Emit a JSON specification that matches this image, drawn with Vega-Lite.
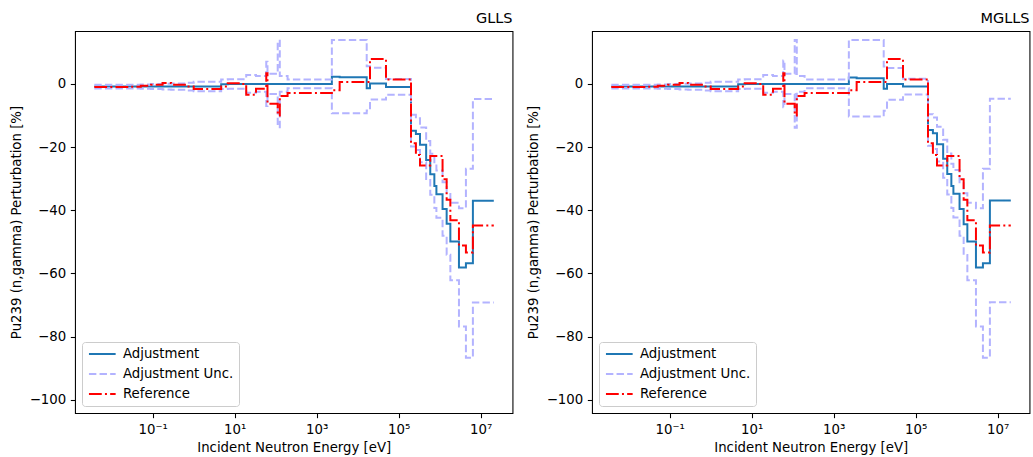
{
  "$schema": "https://vega.github.io/schema/vega-lite/v6.json",
  "padding": {"left": 9, "top": 9, "right": 5, "bottom": 4},
  "spacing": 12,
  "config": {
    "font": "DejaVu Sans",
    "view": {"stroke": "black", "strokeWidth": 1.07},
    "axis": {
      "domain": false, "grid": false,
      "tickColor": "black", "tickSize": 4.67, "tickWidth": 1.07,
      "labelColor": "black", "labelFontSize": 13.3, "labelPadding": 4.67,
      "titleColor": "black", "titleFontSize": 13.3, "titleFontWeight": "normal", "titlePadding": 5.3
    },
    "title": {"fontSize": 14.5, "fontWeight": "normal", "color": "black", "anchor": "end", "offset": 5},
    "legend": {
      "orient": "bottom-left", "offset": 6.7, "padding": 5.3,
      "strokeColor": "#cccccc", "fillColor": "rgba(255,255,255,0.8)", "cornerRadius": 3,
      "labelFontSize": 13.3, "labelColor": "black",
      "symbolType": "M-2.67,0H2.67", "symbolSize": 100, "symbolStrokeWidth": 2,
      "symbolOffset": 8.35, "labelOffset": 14, "rowPadding": 6
    }
  },
  "data": {"values": [
    {"p":"GLLS","E":0.00377,"adj":-0.85,"hi":-0.25,"lo":-1.45,"ref":-1.0},
    {"p":"GLLS","E":0.0295,"adj":-0.85,"hi":-0.25,"lo":-1.45,"ref":-0.9},
    {"p":"GLLS","E":0.0513,"adj":-0.85,"hi":-0.15,"lo":-1.55,"ref":-0.6},
    {"p":"GLLS","E":0.0912,"adj":-0.85,"hi":-0.05,"lo":-1.65,"ref":-0.3},
    {"p":"GLLS","E":0.174,"adj":-0.85,"hi":0.05,"lo":-1.75,"ref":0.3},
    {"p":"GLLS","E":0.282,"adj":-0.85,"hi":0.15,"lo":-1.85,"ref":-0.3},
    {"p":"GLLS","E":0.708,"adj":-0.85,"hi":0.35,"lo":-2.05,"ref":-0.8},
    {"p":"GLLS","E":1.0,"adj":-0.85,"hi":0.65,"lo":-2.35,"ref":-1.6},
    {"p":"GLLS","E":4.68,"adj":-0.1,"hi":1.4,"lo":-1.6,"ref":-0.8},
    {"p":"GLLS","E":6.76,"adj":0.0,"hi":1.5,"lo":-1.5,"ref":0.2},
    {"p":"GLLS","E":14.1,"adj":0.0,"hi":1.5,"lo":-1.5,"ref":0.0},
    {"p":"GLLS","E":19.1,"adj":0.0,"hi":2.8,"lo":-2.8,"ref":-3.4},
    {"p":"GLLS","E":33.1,"adj":0.0,"hi":2.5,"lo":-2.5,"ref":-1.5},
    {"p":"GLLS","E":58.9,"adj":0.0,"hi":7.0,"lo":-7.0,"ref":3.4},
    {"p":"GLLS","E":63.1,"adj":0.0,"hi":3.2,"lo":-3.2,"ref":-6.3},
    {"p":"GLLS","E":112,"adj":0.0,"hi":13.7,"lo":-13.7,"ref":-10.0},
    {"p":"GLLS","E":126,"adj":0.0,"hi":2.5,"lo":-2.5,"ref":-3.8},
    {"p":"GLLS","E":195,"adj":0.0,"hi":1.4,"lo":-1.4,"ref":-2.9},
    {"p":"GLLS","E":2344,"adj":2.3,"hi":13.9,"lo":-9.3,"ref":-2.0},
    {"p":"GLLS","E":3631,"adj":2.1,"hi":13.9,"lo":-9.3,"ref":0.6},
    {"p":"GLLS","E":16600,"adj":-1.4,"hi":5.6,"lo":-8.4,"ref":0.6},
    {"p":"GLLS","E":19950,"adj":0.1,"hi":5.1,"lo":-4.9,"ref":7.9},
    {"p":"GLLS","E":48980,"adj":-0.95,"hi":1.55,"lo":-3.45,"ref":1.4},
    {"p":"GLLS","E":199500,"adj":-14.8,"hi":-9.8,"lo":-19.8,"ref":-18.8},
    {"p":"GLLS","E":263000,"adj":-15.9,"hi":-10.9,"lo":-20.9,"ref":-22.5},
    {"p":"GLLS","E":331100,"adj":-19.3,"hi":-13.8,"lo":-24.8,"ref":-25.8},
    {"p":"GLLS","E":467700,"adj":-24.1,"hi":-18.1,"lo":-30.1,"ref":-25.8},
    {"p":"GLLS","E":588800,"adj":-28.6,"hi":-22.1,"lo":-35.1,"ref":-22.8},
    {"p":"GLLS","E":741300,"adj":-32.3,"hi":-25.3,"lo":-39.3,"ref":-22.8},
    {"p":"GLLS","E":831800,"adj":-34.9,"hi":-27.4,"lo":-42.4,"ref":-22.8},
    {"p":"GLLS","E":1175000,"adj":-39.6,"hi":-31.1,"lo":-48.1,"ref":-30.2},
    {"p":"GLLS","E":1479000,"adj":-44.3,"hi":-34.5,"lo":-54.1,"ref":-36.7},
    {"p":"GLLS","E":1820000,"adj":-49.9,"hi":-37.6,"lo":-62.2,"ref":-43.2},
    {"p":"GLLS","E":2951000,"adj":-58.1,"hi":-39.4,"lo":-76.8,"ref":-51.2},
    {"p":"GLLS","E":4365000,"adj":-56.8,"hi":-26.9,"lo":-86.7,"ref":-53.4},
    {"p":"GLLS","E":6457000,"adj":-37.0,"hi":-4.8,"lo":-69.2,"ref":-44.8},
    {"p":"GLLS","E":20890000,"adj":-37.0,"hi":-4.8,"lo":-69.2,"ref":-44.8},
    {"p":"MGLLS","E":0.00377,"adj":-0.85,"hi":-0.25,"lo":-1.45,"ref":-1.0},
    {"p":"MGLLS","E":0.0295,"adj":-0.85,"hi":-0.25,"lo":-1.45,"ref":-0.9},
    {"p":"MGLLS","E":0.0513,"adj":-0.85,"hi":-0.15,"lo":-1.55,"ref":-0.6},
    {"p":"MGLLS","E":0.0912,"adj":-0.85,"hi":-0.05,"lo":-1.65,"ref":-0.3},
    {"p":"MGLLS","E":0.174,"adj":-0.85,"hi":0.05,"lo":-1.75,"ref":0.3},
    {"p":"MGLLS","E":0.282,"adj":-0.85,"hi":0.15,"lo":-1.85,"ref":-0.3},
    {"p":"MGLLS","E":0.708,"adj":-0.85,"hi":0.35,"lo":-2.05,"ref":-0.8},
    {"p":"MGLLS","E":1.0,"adj":-0.85,"hi":0.65,"lo":-2.35,"ref":-1.6},
    {"p":"MGLLS","E":4.68,"adj":-0.1,"hi":1.4,"lo":-1.6,"ref":-0.8},
    {"p":"MGLLS","E":6.76,"adj":0.0,"hi":1.5,"lo":-1.5,"ref":0.2},
    {"p":"MGLLS","E":14.1,"adj":0.0,"hi":1.5,"lo":-1.5,"ref":0.0},
    {"p":"MGLLS","E":19.1,"adj":0.0,"hi":2.8,"lo":-2.8,"ref":-3.4},
    {"p":"MGLLS","E":33.1,"adj":0.0,"hi":2.5,"lo":-2.5,"ref":-1.5},
    {"p":"MGLLS","E":58.9,"adj":0.0,"hi":7.4,"lo":-7.4,"ref":3.4},
    {"p":"MGLLS","E":63.1,"adj":0.0,"hi":3.2,"lo":-3.2,"ref":-6.3},
    {"p":"MGLLS","E":112,"adj":0.0,"hi":13.9,"lo":-13.9,"ref":-10.0},
    {"p":"MGLLS","E":126,"adj":0.0,"hi":2.5,"lo":-2.5,"ref":-3.8},
    {"p":"MGLLS","E":195,"adj":0.0,"hi":1.4,"lo":-1.4,"ref":-2.9},
    {"p":"MGLLS","E":2344,"adj":2.0,"hi":13.9,"lo":-10.3,"ref":-2.0},
    {"p":"MGLLS","E":3631,"adj":1.8,"hi":13.9,"lo":-10.3,"ref":0.6},
    {"p":"MGLLS","E":16600,"adj":-1.5,"hi":5.5,"lo":-8.5,"ref":0.6},
    {"p":"MGLLS","E":19950,"adj":0.0,"hi":5.0,"lo":-5.0,"ref":7.9},
    {"p":"MGLLS","E":48980,"adj":-0.85,"hi":1.65,"lo":-3.35,"ref":1.4},
    {"p":"MGLLS","E":199500,"adj":-14.6,"hi":-9.6,"lo":-19.6,"ref":-18.8},
    {"p":"MGLLS","E":263000,"adj":-15.6,"hi":-10.6,"lo":-20.6,"ref":-22.5},
    {"p":"MGLLS","E":331100,"adj":-19.1,"hi":-13.6,"lo":-24.6,"ref":-25.8},
    {"p":"MGLLS","E":467700,"adj":-23.7,"hi":-17.7,"lo":-29.7,"ref":-25.8},
    {"p":"MGLLS","E":588800,"adj":-28.5,"hi":-22.0,"lo":-35.0,"ref":-22.8},
    {"p":"MGLLS","E":741300,"adj":-32.3,"hi":-25.3,"lo":-39.3,"ref":-22.8},
    {"p":"MGLLS","E":831800,"adj":-34.8,"hi":-27.3,"lo":-42.3,"ref":-22.8},
    {"p":"MGLLS","E":1175000,"adj":-39.6,"hi":-31.1,"lo":-48.1,"ref":-30.2},
    {"p":"MGLLS","E":1479000,"adj":-44.4,"hi":-34.6,"lo":-54.2,"ref":-36.7},
    {"p":"MGLLS","E":1820000,"adj":-49.9,"hi":-37.6,"lo":-62.2,"ref":-43.2},
    {"p":"MGLLS","E":2951000,"adj":-58.1,"hi":-39.4,"lo":-76.8,"ref":-51.2},
    {"p":"MGLLS","E":4365000,"adj":-56.8,"hi":-26.9,"lo":-86.7,"ref":-53.4},
    {"p":"MGLLS","E":6457000,"adj":-36.9,"hi":-4.7,"lo":-69.1,"ref":-44.8},
    {"p":"MGLLS","E":20890000,"adj":-36.9,"hi":-4.7,"lo":-69.1,"ref":-44.8}
  ]},
  "resolve": {"scale": {"color": "independent", "strokeDash": "independent"}, "legend": {"color": "independent", "strokeDash": "independent"}},
  "hconcat": [
    {
      "title": "GLLS",
      "width": 437.5, "height": 382,
      "transform": [{"filter": "datum.p === 'GLLS'"}],
      "encoding": {
        "x": {"field": "E", "type": "quantitative",
          "scale": {"type": "log", "domain": [0.001274, 59700000], "nice": false},
          "axis": {"values": [0.1, 10, 1000, 100000, 10000000], "title": "Incident Neutron Energy [eV]",
            "labelExpr": "datum.value < 1 ? '10⁻¹' : datum.value < 100 ? '10¹' : datum.value < 10000 ? '10³' : datum.value < 1000000 ? '10⁵' : '10⁷'"}}
      },
      "layer": [
        {"mark": {"type": "line", "interpolate": "step-after", "strokeWidth": 2, "clip": true},
         "encoding": {
          "y": {"field": "adj", "type": "quantitative", "scale": {"domain": [-104.2, 16.75], "nice": false, "zero": false},
            "axis": {"values": [0, -20, -40, -60, -80, -100], "title": "Pu239 (n,gamma) Perturbation [%]", "labelExpr": "replace(datum.label, '-', '−')"}},
          "color": {"datum": "Adjustment", "title": null, "scale": {"domain": ["Adjustment", "Adjustment Unc.", "Reference"], "range": ["#1f77b4", "#b3b3ff", "#ff0000"]}},
          "strokeDash": {"datum": "Adjustment", "title": null, "scale": {"domain": ["Adjustment", "Adjustment Unc.", "Reference"], "range": [[1, 0], [7.4, 3.2], [12.8, 3.2, 2, 3.2]]}}
        }},
        {"mark": {"type": "line", "interpolate": "step-after", "strokeWidth": 2, "clip": true},
         "encoding": {
          "y": {"field": "hi", "type": "quantitative", "title": "Pu239 (n,gamma) Perturbation [%]"},
          "color": {"datum": "Adjustment Unc.", "title": null},
          "strokeDash": {"datum": "Adjustment Unc.", "title": null}
        }},
        {"mark": {"type": "line", "interpolate": "step-after", "strokeWidth": 2, "clip": true},
         "encoding": {
          "y": {"field": "lo", "type": "quantitative", "title": "Pu239 (n,gamma) Perturbation [%]"},
          "color": {"datum": "Adjustment Unc.", "title": null},
          "strokeDash": {"datum": "Adjustment Unc.", "title": null}
        }},
        {"mark": {"type": "line", "interpolate": "step-after", "strokeWidth": 2, "clip": true},
         "encoding": {
          "y": {"field": "ref", "type": "quantitative", "title": "Pu239 (n,gamma) Perturbation [%]"},
          "color": {"datum": "Reference", "title": null},
          "strokeDash": {"datum": "Reference", "title": null}
        }}
      ]
    },
    {
      "title": "MGLLS",
      "width": 437.5, "height": 382,
      "transform": [{"filter": "datum.p === 'MGLLS'"}],
      "encoding": {
        "x": {"field": "E", "type": "quantitative",
          "scale": {"type": "log", "domain": [0.001274, 59700000], "nice": false},
          "axis": {"values": [0.1, 10, 1000, 100000, 10000000], "title": "Incident Neutron Energy [eV]",
            "labelExpr": "datum.value < 1 ? '10⁻¹' : datum.value < 100 ? '10¹' : datum.value < 10000 ? '10³' : datum.value < 1000000 ? '10⁵' : '10⁷'"}}
      },
      "layer": [
        {"mark": {"type": "line", "interpolate": "step-after", "strokeWidth": 2, "clip": true},
         "encoding": {
          "y": {"field": "adj", "type": "quantitative", "scale": {"domain": [-104.2, 16.75], "nice": false, "zero": false},
            "axis": {"values": [0, -20, -40, -60, -80, -100], "title": "Pu239 (n,gamma) Perturbation [%]", "labelExpr": "replace(datum.label, '-', '−')"}},
          "color": {"datum": "Adjustment", "title": null, "scale": {"domain": ["Adjustment", "Adjustment Unc.", "Reference"], "range": ["#1f77b4", "#b3b3ff", "#ff0000"]}},
          "strokeDash": {"datum": "Adjustment", "title": null, "scale": {"domain": ["Adjustment", "Adjustment Unc.", "Reference"], "range": [[1, 0], [7.4, 3.2], [12.8, 3.2, 2, 3.2]]}}
        }},
        {"mark": {"type": "line", "interpolate": "step-after", "strokeWidth": 2, "clip": true},
         "encoding": {
          "y": {"field": "hi", "type": "quantitative", "title": "Pu239 (n,gamma) Perturbation [%]"},
          "color": {"datum": "Adjustment Unc.", "title": null},
          "strokeDash": {"datum": "Adjustment Unc.", "title": null}
        }},
        {"mark": {"type": "line", "interpolate": "step-after", "strokeWidth": 2, "clip": true},
         "encoding": {
          "y": {"field": "lo", "type": "quantitative", "title": "Pu239 (n,gamma) Perturbation [%]"},
          "color": {"datum": "Adjustment Unc.", "title": null},
          "strokeDash": {"datum": "Adjustment Unc.", "title": null}
        }},
        {"mark": {"type": "line", "interpolate": "step-after", "strokeWidth": 2, "clip": true},
         "encoding": {
          "y": {"field": "ref", "type": "quantitative", "title": "Pu239 (n,gamma) Perturbation [%]"},
          "color": {"datum": "Reference", "title": null},
          "strokeDash": {"datum": "Reference", "title": null}
        }}
      ]
    }
  ]
}
